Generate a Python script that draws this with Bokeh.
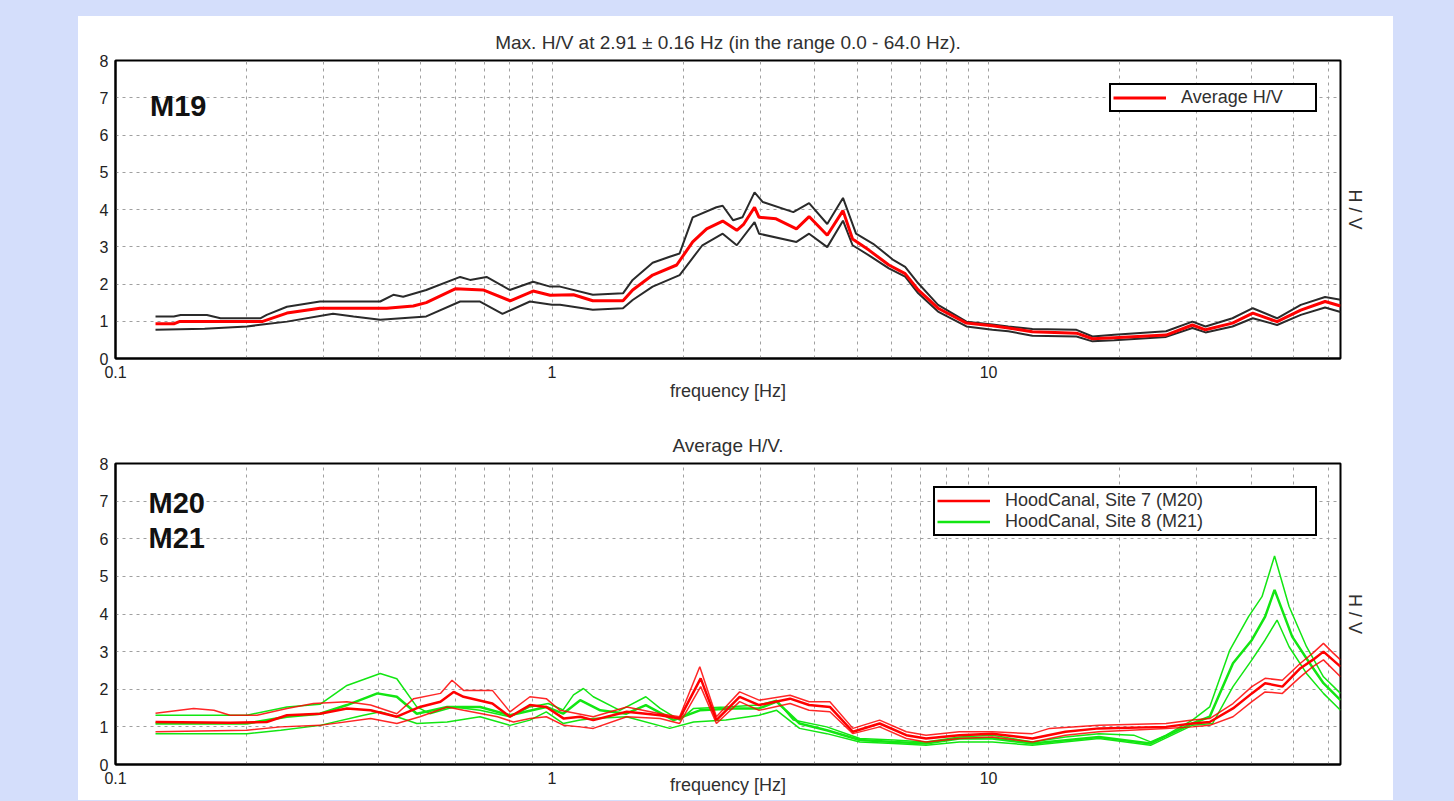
from bokeh.plotting import figure
from bokeh.models import (FixedTicker, LinearAxis, Label, Legend, LegendItem, Range1d,
                          CustomJSTickFormatter)
from bokeh.layouts import column
from bokeh.embed import file_html
from bokeh.resources import INLINE

FONT = "Liberation Sans"
BG = "#d4defb"

# ---------------- data: station M19 (average H/V with +/- std curves) ----------------
m19_freq = [0.1235, 0.136, 0.14, 0.2, 0.2166, 0.247, 0.294, 0.418, 0.481, 0.515, 0.600, 0.695,
            0.802, 0.905, 0.99, 1.12, 1.24, 1.454, 1.53, 1.70, 1.93, 2.10, 2.26, 2.46, 2.65,
            2.75, 2.91, 2.98, 3.26, 3.63, 3.88, 4.27, 4.64, 4.88, 5.32, 5.91, 6.44, 6.9, 7.66,
            8.9, 10.2, 11.1, 12.6, 15.9, 17.3, 19.4, 25.5, 29.3, 31.4, 36.2, 40.3, 45.8, 51.9,
            59.0, 64.0]
m19_mean = [0.93, 0.93, 0.99, 0.99, 0.99, 1.22, 1.35, 1.35, 1.41, 1.50, 1.87, 1.84,
            1.55, 1.81, 1.70, 1.71, 1.55, 1.55, 1.84, 2.24, 2.51, 3.13, 3.48, 3.69, 3.44,
            3.61, 4.06, 3.79, 3.75, 3.48, 3.81, 3.31, 3.97, 3.21, 2.91, 2.51, 2.28, 1.84, 1.35,
            0.95, 0.88, 0.82, 0.72, 0.68, 0.53, 0.56, 0.63, 0.90, 0.77, 0.95, 1.22, 0.99, 1.30,
            1.53, 1.41]

m19_up_freq = [0.1235, 0.136, 0.141, 0.162, 0.174, 0.2146, 0.222, 0.247, 0.294, 0.404, 0.433,
               0.456, 0.515, 0.616, 0.649, 0.708, 0.80, 0.905, 0.99, 1.043, 1.24, 1.454, 1.53,
               1.70, 1.86, 1.96, 2.10, 2.38, 2.46, 2.60, 2.73, 2.91, 3.04, 3.57, 3.88, 4.27,
               4.64, 4.97, 5.44, 6.06, 6.44, 6.9, 7.66, 8.9, 10.2, 11.1, 12.6, 15.9, 17.3, 19.4,
               25.5, 29.3, 31.4, 36.2, 40.3, 45.8, 51.9, 59.0, 64.0]
m19_upper = [1.13, 1.13, 1.17, 1.17, 1.08, 1.08, 1.17, 1.39, 1.53, 1.53, 1.71,
             1.66, 1.84, 2.19, 2.11, 2.19, 1.84, 2.06, 1.93, 1.93, 1.71, 1.75, 2.11,
             2.57, 2.73, 2.82, 3.79, 4.06, 4.10, 3.71, 3.79, 4.46, 4.20, 3.93, 4.17, 3.61,
             4.31, 3.35, 3.08, 2.64, 2.46, 2.02, 1.44, 0.99, 0.91, 0.86, 0.79, 0.77, 0.59, 0.64,
             0.73, 0.99, 0.86, 1.08, 1.35, 1.08, 1.44, 1.65, 1.58]

m19_lo_freq = [0.1235, 0.16, 0.2, 0.217, 0.247, 0.315, 0.351, 0.404, 0.515, 0.616, 0.684,
               0.77, 0.89, 1.0, 1.043, 1.24, 1.454, 1.53, 1.70, 1.96, 2.21, 2.46, 2.65, 2.91,
               2.98, 3.63, 3.88, 4.27, 4.64, 4.88, 5.32, 5.91, 6.44, 6.9, 7.66, 8.9, 10.2,
               11.1, 12.6, 15.9, 17.3, 19.4, 25.5, 29.3, 31.4, 36.2, 40.3, 45.8, 51.9, 59.0,
               64.0]
m19_lower = [0.77, 0.80, 0.86, 0.91, 0.99, 1.20, 1.13, 1.04, 1.13, 1.53, 1.53,
             1.20, 1.53, 1.44, 1.44, 1.31, 1.35, 1.57, 1.93, 2.24, 3.04, 3.35, 3.04, 3.66,
             3.35, 3.13, 3.35, 2.99, 3.70, 3.04, 2.77, 2.42, 2.20, 1.75, 1.26, 0.86, 0.77,
             0.73, 0.61, 0.59, 0.46, 0.49, 0.58, 0.82, 0.70, 0.86, 1.08, 0.90, 1.17, 1.37,
             1.25]

# ---------------- data: HoodCanal Site 7 (M20), red ----------------
s7_up_freq = [0.1235, 0.151, 0.168, 0.183, 0.211, 0.247, 0.284, 0.339, 0.384, 0.441, 0.482,
              0.555, 0.59, 0.627, 0.73, 0.801, 0.89, 0.97, 1.043, 1.243, 1.483, 1.769, 1.96,
              2.18, 2.38, 2.69, 2.98, 3.51, 3.88, 4.33, 4.89, 5.63, 6.48, 7.19, 8.57, 10.2,
              12.6, 13.8, 17.9, 25.5, 29.3, 32.1, 36.3, 40.1, 43.0, 47.1, 51.8, 55.3, 58.5,
              61.6, 64.0]
s7_upper = [1.36, 1.49, 1.44, 1.31, 1.31, 1.49, 1.62, 1.67, 1.58, 1.35, 1.75,
            1.89, 2.24, 1.97, 1.97, 1.40, 1.80, 1.75, 1.44, 1.27, 1.53, 1.35, 1.27,
            2.60, 1.27, 1.93, 1.71, 1.84, 1.67, 1.67, 0.96, 1.18, 0.87, 0.78, 0.87, 0.87,
            0.82, 0.96, 1.04, 1.09, 1.18, 1.22, 1.62, 2.07, 2.29, 2.24, 2.69, 2.96, 3.22,
            2.96, 2.78]

s7_freq = [0.1235, 0.183, 0.222, 0.247, 0.294, 0.339, 0.384, 0.441, 0.498, 0.555, 0.595,
           0.627, 0.73, 0.801, 0.89, 0.97, 1.064, 1.16, 1.243, 1.483, 1.769, 1.96, 2.19, 2.38,
           2.69, 2.98, 3.51, 3.88, 4.33, 4.89, 5.63, 6.48, 7.19, 8.57, 10.2, 12.6, 15.0, 17.9,
           25.5, 29.3, 32.1, 36.3, 40.1, 43.0, 47.1, 51.8, 55.3, 58.5, 64.0]
s7_mean = [1.13, 1.11, 1.13, 1.31, 1.35, 1.49, 1.44, 1.27, 1.53, 1.67, 1.93,
           1.80, 1.62, 1.27, 1.58, 1.53, 1.22, 1.27, 1.18, 1.40, 1.31, 1.22, 2.29, 1.18,
           1.80, 1.58, 1.75, 1.58, 1.53, 0.87, 1.09, 0.78, 0.69, 0.78, 0.82, 0.69, 0.87, 0.96,
           1.00, 1.09, 1.13, 1.49, 1.89, 2.16, 2.07, 2.56, 2.78, 3.00, 2.60]

s7_lo_freq = [0.1235, 0.2, 0.239, 0.294, 0.384, 0.441, 0.498, 0.575, 0.627, 0.75, 0.816,
              0.89, 0.97, 1.064, 1.16, 1.243, 1.483, 1.769, 1.96, 2.19, 2.38, 2.69, 2.98,
              3.51, 3.88, 4.33, 4.89, 5.63, 6.48, 7.19, 8.57, 10.2, 12.6, 15.0, 17.9, 25.5,
              29.3, 32.1, 36.3, 40.1, 43.0, 47.1, 51.8, 55.3, 58.5, 64.0]
s7_lower = [0.87, 0.91, 1.00, 1.04, 1.22, 1.09, 1.27, 1.53, 1.44, 1.27, 1.13,
            1.22, 1.27, 1.04, 1.00, 0.96, 1.27, 1.22, 1.09, 2.07, 1.09, 1.67, 1.44,
            1.62, 1.44, 1.40, 0.82, 1.00, 0.69, 0.60, 0.69, 0.73, 0.60, 0.78, 0.87, 0.96,
            1.00, 1.04, 1.27, 1.67, 1.93, 1.89, 2.33, 2.60, 2.78, 2.33]

# ---------------- data: HoodCanal Site 8 (M21), green ----------------
s8_up_freq = [0.1235, 0.2, 0.247, 0.294, 0.339, 0.404, 0.441, 0.49, 0.525, 0.595, 0.684,
              0.801, 0.89, 0.98, 1.06, 1.12, 1.18, 1.243, 1.43, 1.64, 1.769, 1.96, 2.11, 2.50,
              2.98, 3.27, 3.57, 4.26, 5.07, 6.06, 7.19, 8.57, 10.2, 12.6, 15.0, 17.9, 21.5,
              23.5, 25.5, 29.3, 32.1, 35.7, 39.4, 42.3, 45.2, 48.8, 53.5, 58.5, 64.0]
s8_upper = [1.31, 1.31, 1.53, 1.60, 2.10, 2.42, 2.28, 1.53, 1.35, 1.53, 1.44,
            1.27, 1.53, 1.62, 1.45, 1.85, 2.02, 1.80, 1.44, 1.80, 1.49, 1.18, 1.49, 1.53,
            1.58, 1.71, 1.18, 1.00, 0.69, 0.65, 0.60, 0.73, 0.78, 0.60, 0.73, 0.82, 0.78,
            0.60, 0.78, 1.18, 1.53, 3.04, 3.93, 4.46, 5.54, 4.20, 3.13, 2.33, 1.89]

s8_freq = [0.1235, 0.2, 0.247, 0.294, 0.339, 0.398, 0.441, 0.49, 0.575, 0.684, 0.801,
           0.97, 1.06, 1.16, 1.29, 1.48, 1.64, 1.90, 2.18, 2.60, 2.98, 3.27, 3.69, 4.26,
           5.07, 6.06, 7.19, 8.57, 10.2, 12.6, 17.9, 23.5, 29.3, 32.1, 36.3, 40.1, 43.0,
           45.2, 49.6, 54.4, 58.5, 64.0]
s8_mean = [1.09, 1.09, 1.27, 1.35, 1.58, 1.89, 1.80, 1.35, 1.53, 1.53, 1.31,
           1.53, 1.35, 1.71, 1.44, 1.35, 1.58, 1.18, 1.44, 1.49, 1.49, 1.67, 1.09, 0.91,
           0.65, 0.60, 0.56, 0.69, 0.69, 0.56, 0.73, 0.56, 1.09, 1.27, 2.69, 3.31, 3.93,
           4.64, 3.40, 2.69, 2.16, 1.71]

s8_lo_freq = [0.1235, 0.2, 0.239, 0.294, 0.37, 0.404, 0.441, 0.49, 0.575, 0.684, 0.801,
              0.89, 0.97, 1.06, 1.16, 1.243, 1.48, 1.86, 2.11, 2.50, 2.98, 3.27, 3.69, 4.26,
              5.07, 6.06, 7.19, 8.57, 10.2, 12.6, 17.9, 23.5, 29.3, 32.6, 36.3, 40.1, 43.0,
              45.8, 48.8, 53.5, 58.5, 64.0]
s8_lower = [0.82, 0.82, 0.91, 1.04, 1.31, 1.40, 1.27, 1.09, 1.13, 1.27, 1.04,
            1.18, 1.40, 1.09, 1.18, 1.22, 1.27, 0.96, 1.13, 1.18, 1.31, 1.44, 0.96, 0.82,
            0.60, 0.56, 0.51, 0.60, 0.60, 0.51, 0.69, 0.51, 1.04, 1.09, 2.07, 2.78, 3.31,
            3.84, 3.13, 2.42, 1.89, 1.44]

# ---------------- texts / ticks ----------------
title_top = "Max. H/V at 2.91 \u00b1 0.16 Hz (in the range 0.0 - 64.0 Hz)."
title_bottom = "Average H/V."
x_label = "frequency [Hz]"
y_label = "H / V"
x_major = [0.1, 1, 10]
x_minor = [0.2, 0.3, 0.4, 0.5, 0.6, 0.7, 0.8, 0.9, 2, 3, 4, 5, 6, 7, 8, 9,
           20, 30, 40, 50, 60]
y_ticks = [0, 1, 2, 3, 4, 5, 6, 7, 8]
y_grid = [1, 2, 3, 4, 5, 6, 7]
legend_top = ["Average H/V"]
legend_bottom = ["HoodCanal, Site 7 (M20)", "HoodCanal, Site 8 (M21)"]

RED = "#ff0000"
GREEN = "#12e612"
DARK = "#2a2a2a"


def make_fig(height, title, min_top, min_bottom, standoff, xlabel_standoff, valign):
    p = figure(width=1315, height=height, x_axis_type="log",
               x_range=Range1d(0.1, 64), y_range=Range1d(0, 8),
               output_backend="svg", toolbar_location=None,
               min_border_left=37, min_border_right=53,
               min_border_top=min_top, min_border_bottom=min_bottom,
               background_fill_color="white", border_fill_color="white")
    p.title.text = title
    p.title.align = "center"
    p.title.vertical_align = valign
    p.title.text_font = FONT
    p.title.text_font_size = "19px"
    p.title.text_font_style = "normal"
    p.title.text_color = "#303030"
    p.title.standoff = standoff

    p.outline_line_color = "black"
    p.outline_line_width = 2
    p.outline_line_alpha = 1

    xa = p.xaxis[0]
    xa.ticker = FixedTicker(ticks=x_major, minor_ticks=x_minor)
    xa.formatter = CustomJSTickFormatter(code="return tick.toString();")
    xa.axis_line_color = "black"
    xa.axis_line_width = 2
    xa.major_tick_out = 0
    xa.major_tick_in = 0
    xa.minor_tick_out = 0
    xa.minor_tick_in = 0
    xa.major_label_standoff = 7
    xa.major_label_text_font = FONT
    xa.major_label_text_font_size = "16px"
    xa.major_label_text_color = "#222222"
    xa.axis_label = x_label
    xa.axis_label_text_font = FONT
    xa.axis_label_text_font_size = "18px"
    xa.axis_label_text_font_style = "normal"
    xa.axis_label_text_color = "#303030"
    xa.axis_label_standoff = xlabel_standoff

    ya = p.yaxis[0]
    ya.ticker = FixedTicker(ticks=y_ticks)
    ya.axis_line_color = "black"
    ya.axis_line_width = 2
    ya.major_tick_out = 0
    ya.major_tick_in = 0
    ya.minor_tick_out = 0
    ya.minor_tick_in = 0
    ya.major_label_standoff = 7
    ya.major_label_text_font = FONT
    ya.major_label_text_font_size = "16px"
    ya.major_label_text_color = "#222222"

    ra = LinearAxis(ticker=FixedTicker(ticks=[]), axis_label=y_label,
                    axis_line_color=None, major_tick_line_color=None,
                    minor_tick_line_color=None, major_tick_out=0, minor_tick_out=0,
                    major_label_text_font_size="0px",
                    axis_label_text_font=FONT, axis_label_text_font_size="18px",
                    axis_label_text_font_style="normal", axis_label_text_color="#303030",
                    axis_label_standoff=4)
    p.add_layout(ra, "right")

    p.xgrid.ticker = FixedTicker(ticks=x_major + x_minor)
    p.ygrid.ticker = FixedTicker(ticks=y_grid)
    for g in (p.xgrid[0], p.ygrid[0]):
        g.grid_line_color = "#a0a0a0"
        g.grid_line_dash = "3 4"
        g.grid_line_width = 1
    return p


def make_legend(items, label_width):
    return Legend(items=items, location="top_right", margin=23, padding=2, spacing=0,
                  glyph_width=53, glyph_height=17, label_height=17, label_standoff=15,
                  label_width=label_width,
                  label_text_font=FONT, label_text_font_size="18px",
                  label_text_color="#303030",
                  border_line_color="black", border_line_width=2, border_line_alpha=1,
                  background_fill_color="white", background_fill_alpha=1)


# ---------------- top figure ----------------
p1 = make_fig(404, title_top, 44, 62, 12, 0, "top")
p1.line(m19_up_freq, m19_upper, line_color=DARK, line_width=2)
p1.line(m19_lo_freq, m19_lower, line_color=DARK, line_width=2)
r_avg = p1.line(m19_freq, m19_mean, line_color=RED, line_width=3)
p1.add_layout(make_legend([LegendItem(label=legend_top[0], renderers=[r_avg])], 132))
p1.add_layout(Label(x=0.12, y=6.79, text="M19", text_font=FONT, text_font_size="29px",
                    text_font_style="bold", text_color="#111111",
                    text_baseline="middle", text_align="left"))

# ---------------- bottom figure ----------------
p2 = make_fig(380, title_bottom, 43, 36, 15, -12, "bottom")
p2.line(s8_up_freq, s8_upper, line_color=GREEN, line_width=1.5)
p2.line(s8_lo_freq, s8_lower, line_color=GREEN, line_width=1.5)
r_s8 = p2.line(s8_freq, s8_mean, line_color=GREEN, line_width=2.5)
p2.line(s7_up_freq, s7_upper, line_color=RED, line_width=1.5, line_alpha=0.85)
p2.line(s7_lo_freq, s7_lower, line_color=RED, line_width=1.5, line_alpha=0.85)
r_s7 = p2.line(s7_freq, s7_mean, line_color=RED, line_width=2.5)
p2.add_layout(make_legend([LegendItem(label=legend_bottom[0], renderers=[r_s7]),
                           LegendItem(label=legend_bottom[1], renderers=[r_s8])], 308))
p2.add_layout(Label(x=0.119, y=6.94, text="M20", text_font=FONT, text_font_size="29px",
                    text_font_style="bold", text_color="#111111",
                    text_baseline="middle", text_align="left"))
p2.add_layout(Label(x=0.119, y=6.01, text="M21", text_font=FONT, text_font_size="29px",
                    text_font_style="bold", text_color="#111111",
                    text_baseline="middle", text_align="left"))

layout = column(p1, p2, margin=(16, 0, 0, 78), spacing=0,
                styles={"background-color": "white"})

html = file_html(layout, INLINE, title="H/V")
html = html.replace("</head>",
                    "<style>html, body { background-color: %s; }</style></head>" % BG, 1)
open("out.html", "w").write(html)
